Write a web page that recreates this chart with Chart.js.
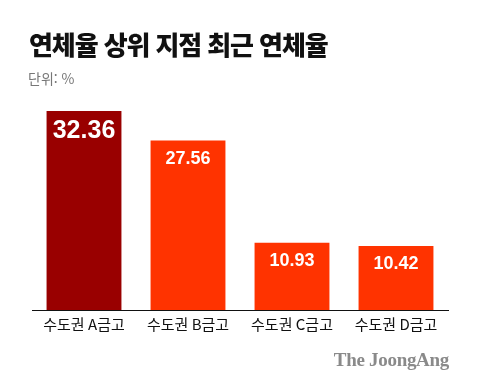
<!DOCTYPE html>
<html lang="ko">
<head>
<meta charset="utf-8">
<script src="https://cdn.jsdelivr.net/npm/chart.js@4"></script>
<style>
  html, body { margin: 0; padding: 0; background: #fff; }
  #wrap { position: relative; width: 480px; height: 389px; overflow: hidden; }
  #chart { position: absolute; left: 0; top: 0; }
  .title {
    position: absolute; left: 29px; top: 25px;
    font-family: "Noto Sans CJK KR", sans-serif; font-weight: 900;
    font-size: 26px; letter-spacing: -1.1px; color: #111; white-space: nowrap;
  }
  .unit {
    position: absolute; left: 28px; top: 68px;
    font-family: "Noto Sans CJK KR", sans-serif; font-size: 14px;
    color: #777; white-space: nowrap;
  }
  .logo {
    position: absolute; right: 31px; top: 349px;
    font-family: "Liberation Serif", serif; font-weight: bold;
    font-size: 19px; letter-spacing: -0.3px; color: #8a8a8a; white-space: nowrap;
  }
</style>
</head>
<body>
<div id="wrap">
  <canvas id="chart" width="480" height="389"></canvas>
  <div class="title">연체율 상위 지점 최근 연체율</div>
  <div class="unit">단위: %</div>
  <div class="logo">The JoongAng</div>
</div>
<script>
// Data
const branches = ['수도권 A금고', '수도권 B금고', '수도권 C금고', '수도권 D금고'];
const rates = [32.36, 27.56, 10.93, 10.42];
const barColors = ['#990000', '#ff3300', '#ff3300', '#ff3300'];

// draws the value inside the top of every bar
const valueLabels = {
  id: 'valueLabels',
  afterDatasetsDraw(chart) {
    const ctx = chart.ctx;
    const meta = chart.getDatasetMeta(0);
    ctx.save();
    ctx.fillStyle = '#fff';
    ctx.textAlign = 'center';
    ctx.textBaseline = 'middle';
    meta.data.forEach((bar, i) => {
      const big = i === 0; // first bar label is larger
      ctx.font = 'bold ' + (big ? 25 : 18) + 'px "Liberation Sans", Arial, sans-serif';
      ctx.fillText(rates[i].toFixed(2), bar.x, bar.y + (big ? 20 : 18));
    });
    ctx.restore();
  }
};

const ctx = document.getElementById('chart').getContext('2d');
new Chart(ctx, {
  type: 'bar',
  data: {
    labels: branches,
    datasets: [{
      data: rates,
      backgroundColor: barColors,
      borderWidth: 0,
      barPercentage: 0.72,
      categoryPercentage: 1
    }]
  },
  options: {
    responsive: false,
    animation: false,
    layout: { padding: { left: 32, right: 32, top: 101, bottom: 39 } },
    plugins: { legend: { display: false }, tooltip: { enabled: false } },
    scales: {
      x: {
        grid: { display: false, drawTicks: false },
        border: { display: true, color: '#111', width: 1 },
        ticks: {
          color: '#111',
          padding: 5,
          font: { family: '"Noto Sans CJK KR", sans-serif', size: 15 }
        },
        afterFit(scale) { scale.height = 40; }
      },
      y: {
        display: false,
        min: 0,
        max: 34
      }
    }
  },
  plugins: [valueLabels]
});
</script>
</body>
</html>
